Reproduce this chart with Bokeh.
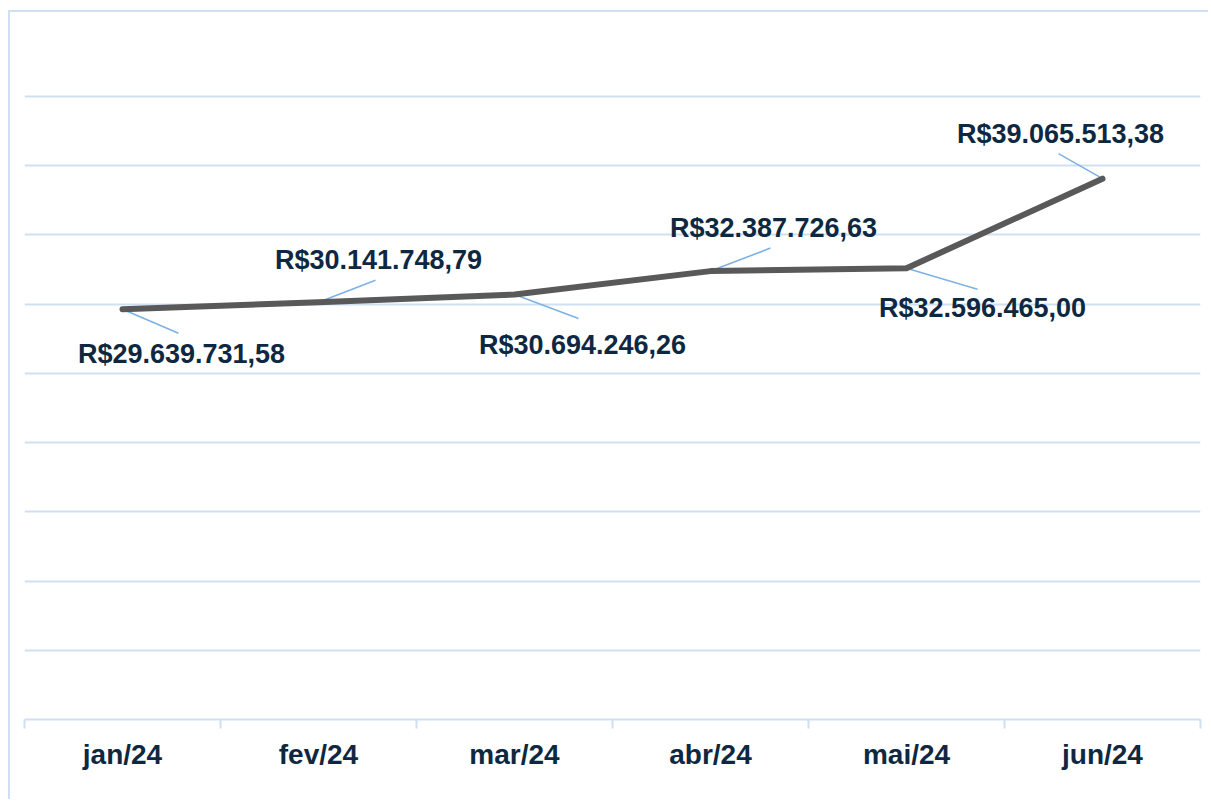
from bokeh.plotting import figure
from bokeh.models import (ColumnDataSource, Range1d, LinearAxis, FixedTicker, Grid)
from bokeh.core.properties import value
from bokeh.embed import file_html
from bokeh.resources import INLINE

# ---- data ----
months = ["jan/24", "fev/24", "mar/24", "abr/24", "mai/24", "jun/24"]
revenue = [29639731.58, 30141748.79, 30694246.26, 32387726.63, 32596465.00, 39065513.38]
grid_values = [0, 5e6, 10e6, 15e6, 20e6, 25e6, 30e6, 35e6, 40e6, 45e6]

# ---- style ----
TEXT = "#0e2841"
GRID = "#cfe0f3"
LEADER = "#7eb2e4"
LINE = "#595959"
FONT = "Liberation Sans"

def brl(v):
    s = f"{v:,.2f}"
    s = s.replace(",", "X").replace(".", ",").replace("X", ".")
    return "R$" + s

labels = [brl(v) for v in revenue]
xs = list(range(len(months)))

# label centre offsets (px, right / down positive) and leader end offsets
lab_dx = [59, 60, 68, 63, 76, -42]
lab_dy = [45, -42, 50, -43, 40, -45]
lead_dx = [56, 57, 64, 60, 71, -44]
lead_dy = [24, -22, 24, -23, 21, -25]

W, H = 1200, 789
MB_L, MB_R, MB_T, MB_B = 14, 10, 2, 82
frame_h = H - MB_T - MB_B
px_per_unit_y = 623.0 / 45e6
y_end = frame_h / px_per_unit_y
px_per_unit_x = (W - MB_L - MB_R) / 6.0

p = figure(width=W, height=H, output_backend="svg", toolbar_location=None,
           x_axis_type=None, y_axis_type=None,
           x_range=Range1d(-0.5, 5.5), y_range=Range1d(0, y_end),
           min_border_left=MB_L, min_border_right=MB_R,
           min_border_top=MB_T, min_border_bottom=MB_B)
p.outline_line_color = None
p.outline_line_alpha = 0
p.background_fill_color = "white"
p.border_fill_color = "white"
p.styles = {"border-style": "solid", "border-width": "2px 0px 0px 2px",
            "border-color": GRID, "margin-top": "10px", "margin-left": "8px"}

grid = Grid(dimension=1, ticker=FixedTicker(ticks=grid_values),
            grid_line_color=GRID, grid_line_width=2)
p.add_layout(grid)

xaxis = LinearAxis(ticker=FixedTicker(ticks=xs, minor_ticks=[i - 0.5 for i in range(len(months) + 1)]))
xaxis.major_label_overrides = {i: m for i, m in zip(xs, months)}
xaxis.major_tick_out = 0
xaxis.major_tick_in = 0
xaxis.minor_tick_out = 9
xaxis.minor_tick_in = 0
xaxis.minor_tick_line_color = GRID
xaxis.minor_tick_line_width = 2
xaxis.axis_line_color = GRID
xaxis.axis_line_width = 2
xaxis.major_label_text_font = FONT
xaxis.major_label_text_font_style = "bold"
xaxis.major_label_text_font_size = "28px"
xaxis.major_label_text_color = TEXT
xaxis.major_label_standoff = 10
p.add_layout(xaxis, "below")

# leader lines
x1 = [x + dx / px_per_unit_x for x, dx in zip(xs, lead_dx)]
y1 = [y - dy / px_per_unit_y for y, dy in zip(revenue, lead_dy)]
p.segment(x0=xs, y0=revenue, x1=x1, y1=y1, line_color=LEADER, line_width=1.6)

# main line
src = ColumnDataSource(dict(x=xs, y=revenue, label=labels, dx=lab_dx, dy=lab_dy))
p.line("x", "y", source=src, line_color=LINE, line_width=6,
       line_join="round", line_cap="round")

# data labels
p.text("x", "y", text="label", source=src, x_offset="dx", y_offset="dy",
       text_font=value(FONT), text_font_style="bold", text_font_size="27px",
       text_color=TEXT, text_align="center", text_baseline="middle")

open("out.html", "w").write(file_html(p, INLINE))
